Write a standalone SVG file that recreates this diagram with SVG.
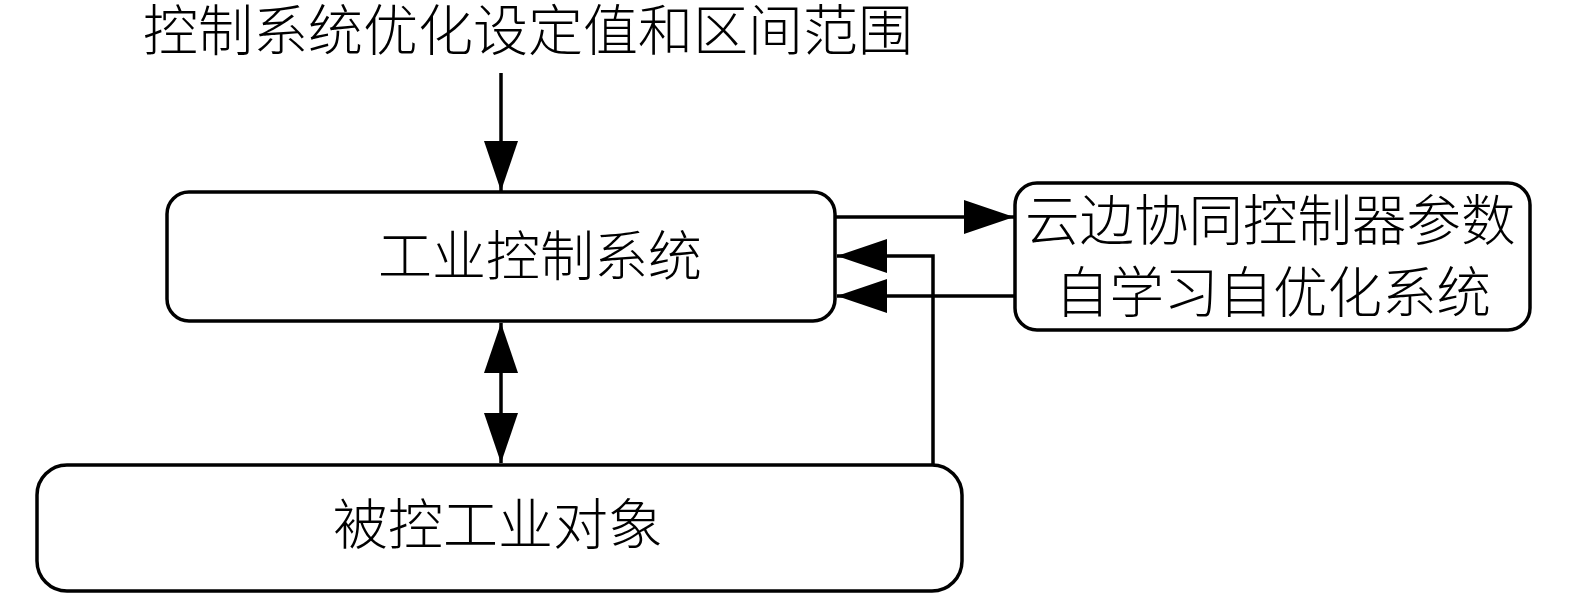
<svg xmlns="http://www.w3.org/2000/svg" width="1575" height="596" viewBox="0 0 1575 596">
<style>
.box{fill:#fff;stroke:#000;stroke-width:3.5}
.t{font-family:"Noto Sans CJK SC","Noto Sans CJK JP",sans-serif;font-weight:300;fill:#000}
.c{fill:none;stroke:#000;stroke-width:3.5}
</style>
<defs>
<marker id="ah" viewBox="0 0 50 34" refX="50" refY="17" markerWidth="50" markerHeight="34" markerUnits="userSpaceOnUse" orient="auto-start-reverse">
<path d="M0,0 L50,17 L0,34 Z" fill="#000"/>
</marker>
</defs>
<rect width="1575" height="596" fill="#fff"/>
<g id="label-top">
<text class="t" x="143" y="50" font-size="55">控制系统优化设定值和区间范围</text>
</g>
<g id="node-ics">
<rect class="box" x="167" y="192" width="668" height="129" rx="22"/>
<text class="t" x="378" y="276" font-size="54">工业控制系统</text>
</g>
<g id="node-cloud">
<rect class="box" x="1015" y="183" width="515" height="147" rx="22"/>
<text class="t" x="1025" y="240" font-size="54.5">云边协同控制器参数</text>
<text class="t" x="1055" y="312" font-size="54.5">自学习自优化系统</text>
</g>
<g id="node-plant">
<rect class="box" x="37" y="465" width="925" height="126" rx="30"/>
<text class="t" x="333" y="544" font-size="55">被控工业对象</text>
</g>
<g id="connectors">
<line class="c" x1="501" y1="73" x2="501" y2="191" marker-end="url(#ah)"/>
<line class="c" x1="501" y1="323" x2="501" y2="463" marker-start="url(#ah)" marker-end="url(#ah)"/>
<line class="c" x1="836" y1="217" x2="1014" y2="217" marker-end="url(#ah)"/>
<line class="c" x1="1015" y1="296" x2="837" y2="296" marker-end="url(#ah)"/>
<polyline class="c" points="933,465 933,256 837,256" marker-end="url(#ah)"/>
</g>
</svg>
